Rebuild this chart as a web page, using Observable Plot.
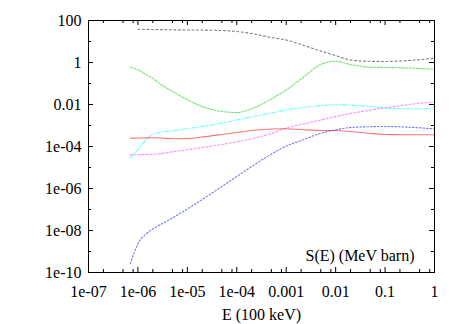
<!DOCTYPE html>
<html><head><meta charset="utf-8">
<script src="https://cdn.jsdelivr.net/npm/d3@7"></script>
<script src="https://cdn.jsdelivr.net/npm/@observablehq/plot@0.6"></script>
<style>body{margin:0;background:#fff} #chart svg, #chart text{font-family:"Liberation Serif", serif;}</style>
</head><body><div id="chart"></div>
<script>
// Energy grid (100 keV units)
const energy = [7e-7, 1e-6, 1.5e-6, 2e-6, 3e-6, 5e-6, 1e-5, 2e-5, 5e-5, 1e-4, 2e-4, 5e-4, 1e-3, 2e-3, 5e-3, 1e-2, 2e-2, 5e-2, 0.1, 0.2, 0.5, 1];
// S(E) series (MeV barn)
const sBlack   = [null, 38.5, 38, 37, 36.9, 36, 35.5, 35, 33.4, 30, 24, 15.5, 11.8, 7.2, 3.5, 2.15, 1.32, 1.14, 1.12, 1.18, 1.36, 1.6];
const sGreen   = [0.6, 0.44, 0.26, 0.173, 0.0867, 0.0416, 0.0168, 0.0080, 0.00464, 0.00416, 0.00624, 0.0183, 0.049, 0.164, 0.80, 1.15, 0.80, 0.60, 0.58, 0.56, 0.52, 0.48];
const sCyan    = [3e-5, 7.2e-5, 2.28e-4, 3.73e-4, 4.9e-4, 5.6e-4, 7.05e-4, 8.96e-4, 1.31e-3, 1.83e-3, 2.54e-3, 3.94e-3, 5.47e-3, 6.97e-3, 8.96e-3, 9.68e-3, 9.36e-3, 8.03e-3, 6.81e-3, 6.24e-3, 6.24e-3, 6.24e-3];
const sMagenta = [4.03e-5, 4.07e-5, 4.16e-5, 4.3e-5, 4.64e-5, 5.6e-5, 6.97e-5, 8.96e-5, 1.245e-4, 1.67e-4, 2.33e-4, 4.16e-4, 7.6e-4, 1.12e-3, 1.83e-3, 2.68e-3, 3.73e-3, 5.36e-3, 6.97e-3, 8.77e-3, 1.15e-2, 1.29e-2];
const sRed     = [2.48e-4, 2.54e-4, 2.57e-4, 2.6e-4, 2.54e-4, 2.35e-4, 2.4e-4, 2.83e-4, 3.73e-4, 4.64e-4, 5.78e-4, 6.81e-4, 6.97e-4, 6.45e-4, 5.78e-4, 5.78e-4, 5.18e-4, 4.16e-4, 3.73e-4, 3.65e-4, 3.6e-4, 3.6e-4];
const sBlue    = [2.6e-10, 2.33e-9, 7.2e-9, 1.18e-8, 2.02e-8, 3.94e-8, 1.06e-7, 2.99e-7, 1.25e-6, 3.73e-6, 1.12e-5, 4.3e-5, 1.05e-4, 1.93e-4, 4.26e-4, 6.24e-4, 8.03e-4, 8.77e-4, 8.96e-4, 8.67e-4, 7.76e-4, 6.97e-4];

// Tick labels
const xTicks = [1e-7, 1e-6, 1e-5, 1e-4, 1e-3, 1e-2, 1e-1, 1];
const xTickLabels = ["1e-07", "1e-06", "1e-05", "1e-04", "0.001", "0.01", "0.1", "1"];
const yTicks = [100, 1, 0.01, 1e-4, 1e-6, 1e-8, 1e-10];
const yTickLabels = ["100", "1", "0.01", "1e-04", "1e-06", "1e-08", "1e-10"];
const yMinor = [10, 0.1, 1e-3, 1e-5, 1e-7, 1e-9];
const xMinorMult = [2, 5, 8];
const xLabel = "E (100 keV)";
const keyLabel = "S(E) (MeV barn)";

const xMinor = xTicks.slice(0, -1).flatMap(t => xMinorMult.map(m => t * m));
const xLab = new Map(xTicks.map((t, i) => [t, xTickLabels[i]]));
const yLab = new Map(yTicks.map((t, i) => [t, yTickLabels[i]]));

const W = 463, H = 324, mL = 88, mR = 29, mT = 20, mB = 52;
const fw = W - mL - mR, fh = H - mT - mB;

const series = [
  {vals: sBlack, stroke: "#000", op: 0.5, dash: "2,2.5"},
  {vals: sGreen, stroke: "#00d000", op: 0.55, dash: "2,1.5"},
  {vals: sCyan, stroke: "#00ffff", op: 0.6, dash: "4,2,1,2"},
  {vals: sMagenta, stroke: "#ff00ff", op: 0.45, dash: "2,2"},
  {vals: sRed, stroke: "#ff0000", op: 0.55, dash: null},
  {vals: sBlue, stroke: "#0000ff", op: 0.55, dash: "1.5,2"}
];

const lineMarks = series.map(s => Plot.line(
  energy.map((e, i) => ({e, v: s.vals[i]})).filter(d => d.v != null),
  {x: "e", y: "v", stroke: s.stroke, strokeOpacity: s.op, strokeWidth: 1.1,
   strokeDasharray: s.dash, curve: "monotone-x"}
));

const font = "Liberation Serif";

const chart = Plot.plot({
  width: W, height: H,
  marginLeft: mL, marginRight: mR, marginTop: mT, marginBottom: mB,
  style: {fontFamily: font, fontSize: "16px", background: "#fff"},
  x: {type: "log", domain: [1e-7, 1]},
  y: {type: "log", domain: [1e-10, 100]},
  marks: [
    ...lineMarks,
    Plot.ruleX(xTicks, {x: d => d, insetTop: fh - 5, stroke: "#000"}),
    Plot.ruleX(xTicks, {x: d => d, insetBottom: fh - 5, stroke: "#000"}),
    Plot.ruleX(xMinor, {x: d => d, insetTop: fh - 3, stroke: "#000"}),
    Plot.ruleX(xMinor, {x: d => d, insetBottom: fh - 3, stroke: "#000"}),
    Plot.ruleY(yTicks, {y: d => d, insetRight: fw - 5, stroke: "#000"}),
    Plot.ruleY(yTicks, {y: d => d, insetLeft: fw - 5, stroke: "#000"}),
    Plot.ruleY(yMinor, {y: d => d, insetRight: fw - 3, stroke: "#000"}),
    Plot.ruleY(yMinor, {y: d => d, insetLeft: fw - 3, stroke: "#000"}),
    Plot.frame({stroke: "#000"}),
    Plot.axisX({ticks: xTicks, tickFormat: d => xLab.get(d), tickSize: 0, tickPadding: 13, label: null, fontSize: 16, fontFamily: font, fill: "#000"}),
    Plot.axisY({ticks: yTicks, tickFormat: d => yLab.get(d), tickSize: 0, tickPadding: 7, label: null, fontSize: 16, fontFamily: font, fill: "#000"}),
    Plot.text([xLabel], {frameAnchor: "bottom", dy: 47, lineAnchor: "bottom", fontSize: 16, fontFamily: font, fill: "#000"}),
    Plot.text([keyLabel], {frameAnchor: "bottom-right", dx: -20, dy: -12, textAnchor: "end", lineAnchor: "bottom", fontSize: 16, fontFamily: font, fill: "#000"})
  ]
});
document.getElementById("chart").appendChild(chart);
</script>
</body></html>
